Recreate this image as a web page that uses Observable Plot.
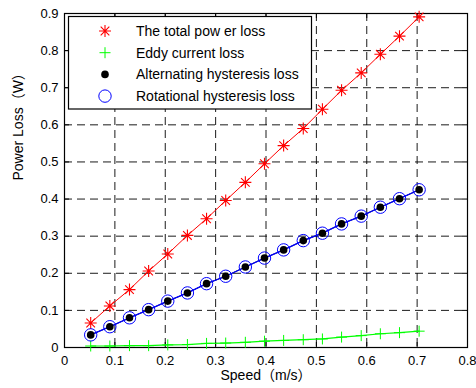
<!DOCTYPE html>
<html><head><meta charset="utf-8">
<script src="https://cdn.jsdelivr.net/npm/d3@7"></script>
<script src="https://cdn.jsdelivr.net/npm/@observablehq/plot@0.6"></script>
<style>
html,body{margin:0;padding:0;background:#fff;}
#chart{width:476px;height:388px;}
</style></head><body><div id="chart"></div>
<script>
// ---- data ----
const speed = [0.052,0.090,0.129,0.167,0.205,0.244,0.282,0.320,0.359,0.397,0.435,0.474,0.512,0.550,0.589,0.627,0.665,0.704];
const totalLoss = [0.066,0.112,0.156,0.206,0.252,0.302,0.347,0.396,0.445,0.495,0.544,0.590,0.642,0.693,0.740,0.790,0.839,0.891];
const eddyLoss = [0.004,0.004,0.005,0.005,0.007,0.008,0.011,0.012,0.014,0.017,0.019,0.021,0.023,0.028,0.032,0.037,0.040,0.044];
const alternatingLoss = [0.034,0.056,0.080,0.102,0.125,0.147,0.172,0.192,0.217,0.241,0.263,0.288,0.308,0.333,0.354,0.378,0.401,0.425];
const rotationalLoss = [0.034,0.056,0.080,0.102,0.125,0.147,0.172,0.192,0.217,0.241,0.263,0.288,0.308,0.333,0.354,0.378,0.401,0.425];
const seriesNames = ["The total pow er loss","Eddy current loss","Alternating hysteresis loss","Rotational hysteresis loss"];
const xTicks = [0,0.1,0.2,0.3,0.4,0.5,0.6,0.7,0.8];
const yTicks = [0,0.1,0.2,0.3,0.4,0.5,0.6,0.7,0.8,0.9];
const xLabel = "Speed（m/s）";
const yLabel = "Power Loss（W）";

// ---- table ----
const rows = (vals, name) => speed.map((s, i) => ({speed: s, loss: vals[i], series: name}));
const totalRows = rows(totalLoss, seriesNames[0]);
const eddyRows = rows(eddyLoss, seriesNames[1]);
const altRows = rows(alternatingLoss, seriesNames[2]);
const rotRows = rows(rotationalLoss, seriesNames[3]);

// ---- marker shapes ----
const asterisk = {draw(ctx, size) {
  const r = Math.sqrt(size / Math.PI), d = r * 0.72;
  ctx.moveTo(-r, 0); ctx.lineTo(r, 0);
  ctx.moveTo(0, -r); ctx.lineTo(0, r);
  ctx.moveTo(-d, -d); ctx.lineTo(d, d);
  ctx.moveTo(-d, d); ctx.lineTo(d, -d);
}};
const plusSym = {draw(ctx, size) {
  const r = Math.sqrt(size / Math.PI);
  ctx.moveTo(-r, 0); ctx.lineTo(r, 0);
  ctx.moveTo(0, -r); ctx.lineTo(0, r);
}};

const W = 476, H = 388, mL = 64, mR = 9, mT = 13, mB = 41;
const pW = W - mL - mR, pH = H - mT - mB;
const font = '"Liberation Sans", Arial, "Noto Sans CJK SC", sans-serif';
const dash = "8,5";

const svg = Plot.plot({
  width: W, height: H,
  marginLeft: mL, marginRight: mR, marginTop: mT, marginBottom: mB,
  style: {fontFamily: font, fontSize: "13px", color: "#000", background: "#fff", overflow: "visible"},
  x: {domain: [0, 0.8]},
  y: {domain: [0, 0.9]},
  marks: [
    Plot.ruleX(xTicks.slice(1, -1), {stroke: "#000", strokeWidth: 0.9, strokeDasharray: dash}),
    Plot.ruleY(yTicks.slice(1, -1), {stroke: "#000", strokeWidth: 0.9, strokeDasharray: dash}),
    Plot.tickX(xTicks, {x: d => d, insetTop: pH - 5, stroke: "#000"}),
    Plot.tickX(xTicks, {x: d => d, insetBottom: pH - 5, stroke: "#000"}),
    Plot.tickY(yTicks, {y: d => d, insetRight: pW - 5, stroke: "#000"}),
    Plot.tickY(yTicks, {y: d => d, insetLeft: pW - 5, stroke: "#000"}),
    Plot.frame({stroke: "#000", strokeWidth: 1.2}),
    Plot.axisX(xTicks, {tickSize: 0, tickPadding: 8, tickFormat: d => String(d), label: null, fontSize: 13}),
    Plot.axisY(yTicks, {tickSize: 0, tickPadding: 6, tickFormat: d => String(d), label: null, fontSize: 13}),
    // lines
    Plot.line(totalRows, {x: "speed", y: "loss", stroke: "#ff0000", strokeWidth: 1}),
    Plot.line(eddyRows, {x: "speed", y: "loss", stroke: "#00ff00", strokeWidth: 1.2}),
    Plot.line(altRows, {x: "speed", y: "loss", stroke: "#000000", strokeWidth: 1}),
    Plot.line(rotRows, {x: "speed", y: "loss", stroke: "#0000ff", strokeWidth: 1.3}),
    // markers
    Plot.dot(totalRows, {x: "speed", y: "loss", symbol: asterisk, r: 6, fill: "none", stroke: "#ff0000", strokeWidth: 1.1}),
    Plot.dot(eddyRows, {x: "speed", y: "loss", symbol: plusSym, r: 5.5, fill: "none", stroke: "#00ff00", strokeWidth: 1}),
    Plot.dot(altRows, {x: "speed", y: "loss", r: 3.8, fill: "#000", stroke: "none"}),
    Plot.dot(rotRows, {x: "speed", y: "loss", r: 6.2, fill: "none", stroke: "#0000ff", strokeWidth: 1}),
    // axis titles
    Plot.text([xLabel], {text: d => d, frameAnchor: "bottom", dy: 32, fontSize: 14, fill: "#000"}),
    Plot.text([yLabel], {text: d => d, frameAnchor: "left", dx: -46, rotate: -90, fontSize: 14, fill: "#000"})
  ]
});

// ---- legend (inside the axes, top-left) ----
const lg = d3.select(svg).append("g").attr("font-family", font).attr("font-size", 14).attr("text-anchor", "start");
lg.append("rect").attr("x", 68.5).attr("y", 16.5).attr("width", 243).attr("height", 92.5)
  .attr("fill", "#fff").attr("stroke", "#000").attr("stroke-width", 1.2);
const rowY = i => 31 + i * 21.7;
const mx = 105;
const symPath = (sym, r) => { const p = d3.path(); sym.draw(p, r * r * Math.PI); return p.toString(); };
lg.append("path").attr("transform", `translate(${mx},${rowY(0)})`).attr("d", symPath(asterisk, 6)).attr("fill", "none").attr("stroke", "#ff0000").attr("stroke-width", 1.1);
lg.append("path").attr("transform", `translate(${mx},${rowY(1)})`).attr("d", symPath(plusSym, 5.5)).attr("fill", "none").attr("stroke", "#00ff00");
lg.append("circle").attr("cx", mx).attr("cy", rowY(2)).attr("r", 3.8).attr("fill", "#000");
lg.append("circle").attr("cx", mx).attr("cy", rowY(3)).attr("r", 6.2).attr("fill", "none").attr("stroke", "#0000ff");
seriesNames.forEach((n, i) => {
  lg.append("text").attr("x", 136).attr("y", rowY(i)).attr("dy", "0.35em").attr("text-anchor", "start").attr("fill", "#000").text(n);
});

document.getElementById("chart").appendChild(svg);
</script>
</body></html>
